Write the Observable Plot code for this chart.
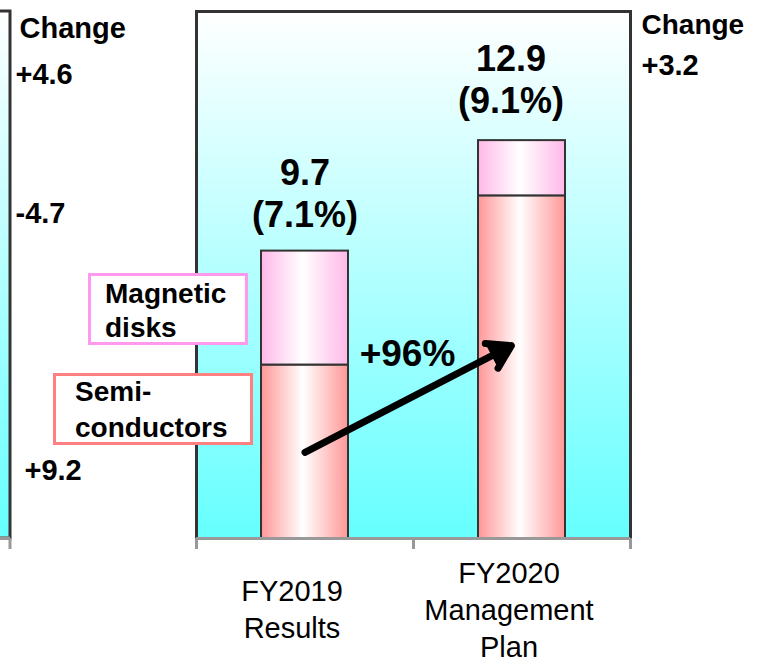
<!DOCTYPE html>
<html>
<head>
<meta charset="utf-8">
<script src="https://cdn.jsdelivr.net/npm/d3@7"></script>
<script src="https://cdn.jsdelivr.net/npm/@observablehq/plot@0.6"></script>
<style>
  body { margin: 0; background: #fff; }
  svg text { font-family: "Liberation Sans", Arial, sans-serif; }
</style>
</head>
<body>
<div id="chart"></div>
<script>
// ---- data ----
const years = ["FY2019", "FY2020"];
const yearLabels = ["FY2019\nResults", "FY2020\nManagement\nPlan"];
const segments = ["Semiconductors", "Magnetic disks"];
const semisValues = [6.4, 11.3];
const magneticValues = [3.3, 1.6];
const totals = [9.7, 12.9];
const marginPct = [7.1, 9.1];
const growthLabel = ["+96%"];
const changeLeft = ["+4.6", "-4.7", "+9.2"];
const changeRight = ["+3.2"];
const legendMagnetic = ["Magnetic", "disks"];
const legendSemis = ["Semi-", "conductors"];
// arrow annotation (from FY2019 to FY2020, in value units)
const arrowFrom = 3.87, arrowTo = 7.12;

// ---- tables built from the arrays ----
const rows = [];
years.forEach((yr, i) => {
  rows.push({year: yr, segment: segments[0], value: semisValues[i]});
  rows.push({year: yr, segment: segments[1], value: magneticValues[i]});
});
const totalRows = years.map((yr, i) => ({year: yr, total: totals[i], pct: marginPct[i], label: yearLabels[i]}));

const W = 774, H = 662;
const mT = 11, mB = 124, mL = 196, mR = 144;
const frameH = H - mT - mB;
const step = (W - mL - mR) / years.length;
const yDomain = [1.376, 16.64];

const bold = {fontWeight: "bold", fill: "black", fontFamily: "Liberation Sans, Arial, sans-serif"};
function note(text, x, baseline, size, extra = {}) {
  return Plot.text([text], {
    frameAnchor: "top-left", dx: x - mL, dy: baseline - mT,
    textAnchor: "start", lineAnchor: "bottom", fontSize: size, ...bold, ...extra
  });
}

const svg = Plot.plot({
  width: W, height: H,
  marginTop: mT, marginBottom: mB, marginLeft: mL, marginRight: mR,
  style: {background: "white", fontFamily: "Liberation Sans, Arial, sans-serif", overflow: "visible"},
  x: {domain: years, paddingInner: 0.6, paddingOuter: 0.3, axis: null},
  y: {domain: yDomain, axis: null},
  color: {domain: segments, range: ["url(#gSemi)", "url(#gMag)"]},
  marks: [
    Plot.frame({fill: "url(#gBg)", stroke: "#333", strokeWidth: 3}),
    Plot.barY(rows, {x: "year", y: "value", fill: "segment", stroke: "#333", strokeWidth: 2, clip: true}),
    Plot.ruleY([yDomain[0]], {stroke: "#999", strokeWidth: 3}),
    Plot.ruleX(years, {x: d => d, dx: -step / 2, insetTop: frameH, insetBottom: -11, stroke: "#999", strokeWidth: 3}),
    Plot.ruleX(years.slice(-1), {x: d => d, dx: step / 2, insetTop: frameH, insetBottom: -11, stroke: "#999", strokeWidth: 3}),
    // value labels
    Plot.text(totalRows.slice(0, 1), {x: "year", y: "total", text: d => `${d.total}\n(${d.pct}%)`,
      lineAnchor: "bottom", dy: -24, lineHeight: 1.17, fontSize: 36, ...bold}),
    Plot.text(totalRows.slice(1), {x: "year", y: "total", text: d => `${d.total}\n(${d.pct}%)`,
      lineAnchor: "bottom", dy: -28, dx: -11, lineHeight: 1.17, fontSize: 36, ...bold}),
    // x labels
    Plot.text(totalRows, {x: "year", text: "label", frameAnchor: "bottom", dy: 69.5, dx: -13,
      lineAnchor: "middle", lineHeight: 1.27, fontSize: 29, fill: "black", fontFamily: "Liberation Sans, Arial, sans-serif"}),
    // growth
    Plot.text(growthLabel, {frameAnchor: "top-left", dx: 407 - mL, dy: 365 - mT, textAnchor: "middle",
      lineAnchor: "bottom", fontSize: 37, ...bold}),
    Plot.arrow([{from: years[0], to: years[1], y1: arrowFrom, y2: arrowTo}], {
      x1: "from", x2: "to", y1: "y1", y2: "y2", insetEnd: 12,
      stroke: "black", fill: "black", strokeWidth: 7, headLength: 5.6, headAngle: 64
    }),
    // change columns
    note("Change", 19, 37, 29),
    note(changeLeft[0], 15, 83, 29),
    note(changeLeft[1], 15, 222, 29),
    note(changeLeft[2], 24, 479, 29),
    note("Change", 641, 33, 28),
    note(changeRight[0], 641, 74, 29)
  ]
});

const s = d3.select(svg);
const defs = s.insert("defs", ":first-child");
function hGrad(id, edge, mid = 0.48) {
  const g = defs.append("linearGradient").attr("id", id).attr("x1", 0).attr("y1", 0).attr("x2", 1).attr("y2", 0);
  g.append("stop").attr("offset", 0).attr("stop-color", edge);
  g.append("stop").attr("offset", mid).attr("stop-color", "#ffffff");
  g.append("stop").attr("offset", 1).attr("stop-color", edge);
}
hGrad("gSemi", "#ff9797");
hGrad("gMag", "#ffb8e8");
function vGrad(id) {
  const g = defs.append("linearGradient").attr("id", id).attr("x1", 0).attr("y1", 0).attr("x2", 0).attr("y2", 1);
  g.append("stop").attr("offset", 0).attr("stop-color", "#ffffff");
  g.append("stop").attr("offset", 1).attr("stop-color", "#66ffff");
}
vGrad("gBg");
vGrad("gBgL");

// remnant of the neighbouring panel on the left
const lp = s.append("g");
lp.append("rect").attr("x", -20).attr("y", mT).attr("width", 30).attr("height", frameH)
  .attr("fill", "url(#gBgL)").attr("stroke", "#333").attr("stroke-width", 3);
lp.append("line").attr("x1", 0).attr("x2", 10).attr("y1", mT + frameH).attr("y2", mT + frameH)
  .attr("stroke", "#999").attr("stroke-width", 3);
lp.append("line").attr("x1", 10).attr("x2", 10).attr("y1", mT + frameH).attr("y2", mT + frameH + 11)
  .attr("stroke", "#999").attr("stroke-width", 3);

// legend boxes
function box(x, y, w, h, color, lines, tx, baselines) {
  const g = s.append("g");
  g.append("rect").attr("x", x).attr("y", y).attr("width", w).attr("height", h)
    .attr("fill", "white").attr("stroke", color).attr("stroke-width", 3);
  lines.forEach((t, i) => g.append("text").attr("x", tx).attr("y", baselines[i])
    .attr("text-anchor", "start").attr("font-size", 28).attr("font-weight", "bold")
    .attr("fill", "black").text(t));
}
box(89.5, 274.5, 157, 69, "#ff99ee", legendMagnetic, 105, [303, 337]);
box(54.5, 374.5, 197, 69, "#ff8080", legendSemis, 75, [401, 437]);

document.getElementById("chart").appendChild(svg);
</script>
</body>
</html>
